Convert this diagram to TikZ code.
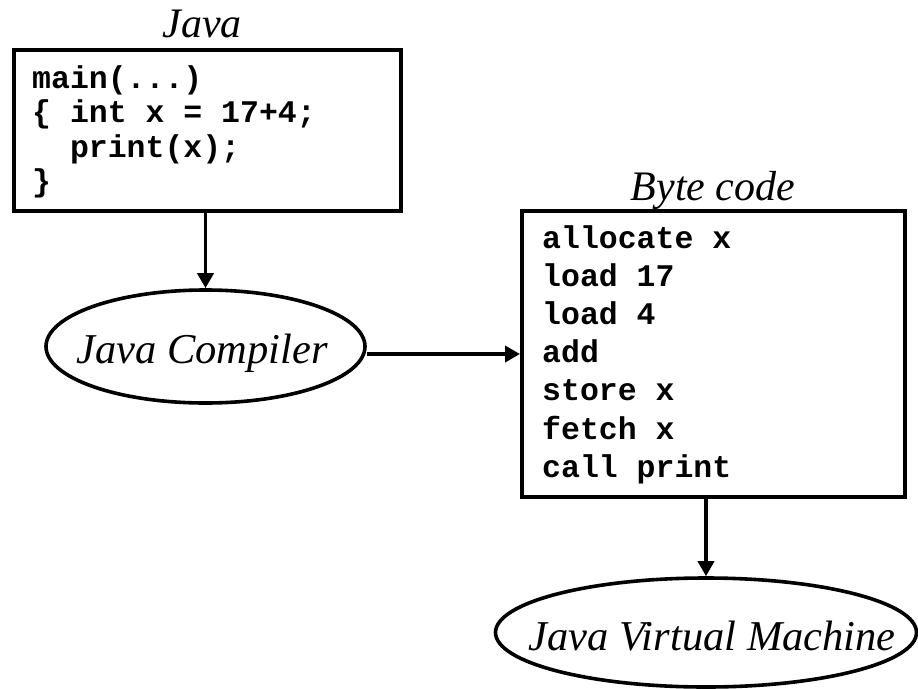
\documentclass[tikz,border=0pt]{standalone}
\usepackage{fontspec}
\setmainfont{Liberation Serif}
\setmonofont{Liberation Mono}
\usetikzlibrary{arrows.meta,shapes.geometric}
\begin{document}
\begin{tikzpicture}[x=1pt,y=-1pt,
  codebox/.style={draw, line width=4pt, rectangle, inner sep=0pt},
  procell/.style={draw, line width=3.6pt, ellipse, inner sep=0pt},
  label/.style={font=\fontsize{42.5}{42.5}\selectfont\itshape, inner sep=0pt},
  title/.style={font=\fontsize{42}{42}\selectfont\itshape, anchor=base, inner sep=0pt},
  code/.style={font=\fontsize{31.5}{31.5}\selectfont\ttfamily\bfseries, anchor=base west, inner sep=0pt},
  arr/.style={line width=3.6pt, -{Triangle[length=15pt,width=16pt]}}]
\useasboundingbox (0,0) rectangle (918,688);
% Java source box
\node[codebox, minimum width=387pt, minimum height=161pt] (javabox) at (207.5,130.5) {};
\node[title] (javatitle) at (202,37) {Java};
\node[code] (j1) at (32,88) {main(...)};
\node[code] (j2) at (32,122.5) {\{ int x = 17+4;};
\node[code] (j3) at (32,157) {\ \ print(x);};
\node[code] (j4) at (32,191.5) {\}};
% compiler
\node[procell, minimum width=319pt, minimum height=113pt] (comp) at (205.5,346.5) {};
\node[label, anchor=base] (comptext) at (202,363) {Java Compiler};
% byte code box
\node[codebox, minimum width=383pt, minimum height=286pt] (bytebox) at (713.5,354) {};
\node[title] (bytetitle) at (713,200) {Byte code};
\node[code] (b1) at (542,248) {allocate x};
\node[code] (b2) at (542,286.2) {load 17};
\node[code] (b3) at (542,324.4) {load 4};
\node[code] (b4) at (542,362.6) {add};
\node[code] (b5) at (542,400.8) {store x};
\node[code] (b6) at (542,439) {fetch x};
\node[code] (b7) at (542,477.2) {call print};
% JVM
\node[procell, minimum width=421pt, minimum height=109pt] (jvm) at (706,632.5) {};
\node[label, anchor=base] (jvmtext) at (712,650) {Java Virtual Machine};
% connectors
\draw[arr] (comp.north |- javabox.south) -- (comp.north);
\draw[arr] ([yshift=-7.5pt]comp.east) -- ([yshift=-7.5pt]comp.east -| bytebox.west);
\draw[arr] (jvm.north |- bytebox.south) -- (jvm.north);
\end{tikzpicture}
\end{document}
